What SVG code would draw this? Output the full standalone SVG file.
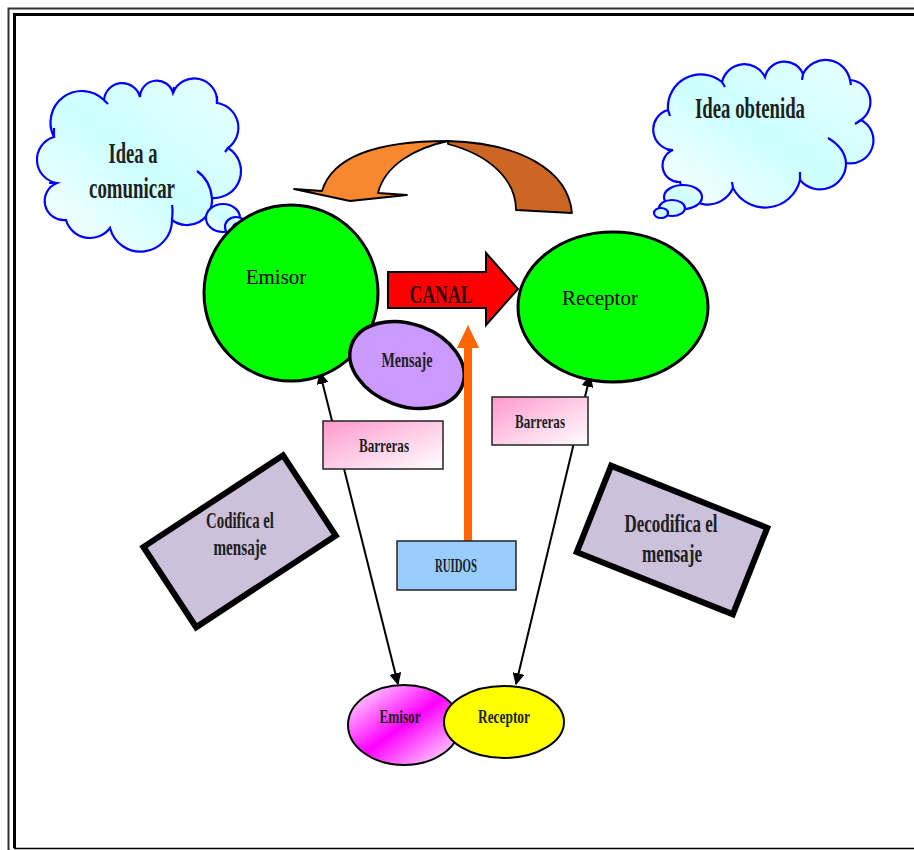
<svg xmlns="http://www.w3.org/2000/svg" width="914" height="850" viewBox="0 0 914 850">
<style>
.lbl{font-family:"Liberation Serif","DejaVu Serif",serif;font-weight:bold;fill:#1e1e1e;text-anchor:middle}
.reg{font-family:"Liberation Serif","DejaVu Serif",serif;font-size:21px;fill:#000;text-anchor:middle}
.cloud{stroke:#0000ff;stroke-width:2.2;fill:url(#cloudG)}
.hook{stroke:#0000ff;stroke-width:2.2;fill:none}
.conn{stroke:#000;stroke-width:2;fill:none}
.rot{fill:#ccc0da;stroke:#000;stroke-width:6}
</style>
<defs>
<linearGradient id="cloudG" x1="0" y1="1" x2="1" y2="0">
<stop offset="0" stop-color="#ffffff"/><stop offset="0.5" stop-color="#ccffff"/><stop offset="1" stop-color="#eaffff"/>
</linearGradient>
<linearGradient id="pinkG" x1="0" y1="0" x2="1" y2="1">
<stop offset="0" stop-color="#ff99cc"/><stop offset="1" stop-color="#ffffff"/>
</linearGradient>
<linearGradient id="magG" x1="0" y1="0" x2="1" y2="1">
<stop offset="0" stop-color="#ffffff"/><stop offset="0.5" stop-color="#ff00ff"/><stop offset="1" stop-color="#ffffff"/>
</linearGradient>
<marker id="ah" viewBox="0 0 10 10" refX="9" refY="5" markerWidth="6" markerHeight="6" orient="auto-start-reverse" markerUnits="strokeWidth">
<path d="M0,0 L10,5 L0,10 Z" fill="#000"/>
</marker>
</defs>
<rect x="0" y="0" width="914" height="850" fill="#fff"/>
<g id="frame" fill="none" stroke="#000">
<path d="M8.5,850 V8.5 H914" stroke-width="2" stroke="#333"/>
<path d="M14.5,848 V14.5 H914" stroke-width="3"/>
<path d="M14,848.5 H914" stroke-width="1.5"/>
</g>
<g id="cloud-left">
<path class="cloud" d="M54,137 A31.5,31.5 0 0 1 104,100 A18.3,18.3 0 0 1 140,97 A16.8,16.8 0 0 1 173,93 A22.8,22.8 0 0 1 217,103 A25,25 0 0 1 228,148 A27,27 0 0 1 212,198 A25,25 0 0 1 172,220 A31.5,31.5 0 0 1 110,228 A25,25 0 0 1 66,220 A19.2,19.2 0 0 1 57,183 A23.6,23.6 0 0 1 54,137 Z"/>
<path class="hook" d="M197,171 Q210,180 212,198 M172,220 Q173,210 172,205 M57,183 L49,183 M54,137 L54,128 M104,100 L108,104 M173,93 L174,87 M217,103 L217,96 M228,148 L225,152"/>
<ellipse class="cloud" cx="223" cy="218" rx="17" ry="14"/>
<ellipse class="cloud" cx="236" cy="227" rx="11" ry="10"/>
<ellipse class="cloud" cx="238" cy="228" rx="5" ry="5"/>
<text class="lbl" x="133" y="163" font-size="30" textLength="49" lengthAdjust="spacingAndGlyphs">Idea a</text>
<text class="lbl" x="132" y="198" font-size="30" textLength="86" lengthAdjust="spacingAndGlyphs">comunicar</text>
</g>
<g id="cloud-right">
<path class="cloud" d="M668,110 A33,33 0 0 1 722,82 A23,23 0 0 1 765,77 A20,20 0 0 1 803,74 A25,25 0 0 1 850,80 A22,22 0 0 1 861,120 A23,23 0 0 1 846,163 A26,26 0 0 1 800,180 A36,36 0 0 1 733,188 A28,28 0 0 1 680,182 A16.6,16.6 0 0 1 673,150 A20.4,20.4 0 0 1 668,110 Z"/>
<path class="hook" d="M828,138 Q845,148 846,163 M800,180 L800,172 M733,188 L732,182 M673,150 L667,150 M668,110 L670,116 M722,82 L725,87 M803,74 L802,80 M850,80 L851,85 M861,120 L855,124"/>
<ellipse class="cloud" cx="683" cy="197" rx="19" ry="12"/>
<ellipse class="cloud" cx="672" cy="208" rx="13" ry="8"/>
<ellipse class="cloud" cx="661" cy="213" rx="7" ry="5"/>
<text class="lbl" x="750" y="118" font-size="30" textLength="110" lengthAdjust="spacingAndGlyphs">Idea obtenida</text>
</g>
<g id="return-arrow" stroke="#000" stroke-width="1.8" stroke-linejoin="round">
<path d="M448,141 C520,143 568,170 572,213 L516,210 C516,180 490,155 448,144 Z" fill="#cc6622"/>
<path d="M294,189 L322,191 C332,158 375,141 448,141 C415,148 385,165 378,193 L407,195 L350,201 Z" fill="#f7882f"/>
</g>
<g id="connectors">
<line class="conn" x1="398" y1="684" x2="320" y2="373" marker-start="url(#ah)" marker-end="url(#ah)"/>
<line class="conn" x1="516" y1="684" x2="590" y2="376" marker-start="url(#ah)" marker-end="url(#ah)"/>
</g>
<g id="emisor">
<ellipse cx="291" cy="293" rx="87" ry="88" fill="#00ff00" stroke="#000" stroke-width="3"/>
<text class="reg" x="276" y="284">Emisor</text>
</g>
<g id="receptor">
<ellipse cx="613" cy="307" rx="95" ry="75" fill="#00ff00" stroke="#000" stroke-width="3"/>
<text class="reg" x="600" y="305">Receptor</text>
</g>
<g id="canal">
<polygon points="388,272 486,272 486,253 518,289 486,325 486,308 388,308" fill="#ff0000" stroke="#000" stroke-width="2"/>
<text class="lbl" x="441" y="303" font-size="25" textLength="63" lengthAdjust="spacingAndGlyphs" style="fill:#2a0000">CANAL</text>
</g>
<g id="mensaje">
<ellipse cx="407" cy="365" rx="59" ry="41" transform="rotate(20 407 365)" fill="#cc99ff" stroke="#000" stroke-width="3.5"/>
<text class="lbl" x="407" y="367" font-size="22" textLength="51" lengthAdjust="spacingAndGlyphs">Mensaje</text>
</g>
<g id="ruidos-arrow">
<rect x="464" y="346" width="8" height="196" fill="#ff6600"/>
<polygon points="457,348 479,348 468,325" fill="#ff6600"/>
</g>
<g id="ruidos">
<rect x="397" y="541" width="119" height="49" fill="#99ccff" stroke="#222" stroke-width="1.5"/>
<text class="lbl" x="456" y="572" font-size="19" textLength="42" lengthAdjust="spacingAndGlyphs">RUIDOS</text>
</g>
<g id="barreras-left">
<rect x="323" y="421" width="120" height="48" fill="url(#pinkG)" stroke="#222" stroke-width="1.5"/>
<text class="lbl" x="384" y="452" font-size="19" textLength="50" lengthAdjust="spacingAndGlyphs">Barreras</text>
</g>
<g id="barreras-right">
<rect x="492" y="397" width="96" height="48" fill="url(#pinkG)" stroke="#222" stroke-width="1.5"/>
<text class="lbl" x="540" y="428" font-size="19" textLength="50" lengthAdjust="spacingAndGlyphs">Barreras</text>
</g>
<g id="codifica">
<rect x="156" y="493" width="167" height="96" transform="rotate(-33.3 240 541)" class="rot"/>
<text class="lbl" x="240" y="528" font-size="24" textLength="68" lengthAdjust="spacingAndGlyphs">Codifica el</text>
<text class="lbl" x="240" y="555" font-size="24" textLength="53" lengthAdjust="spacingAndGlyphs">mensaje</text>
</g>
<g id="decodifica">
<rect x="588" y="493.5" width="168" height="93" transform="rotate(21.7 672 540)" class="rot"/>
<text class="lbl" x="671" y="532" font-size="25" textLength="93" lengthAdjust="spacingAndGlyphs">Decodifica el</text>
<text class="lbl" x="672" y="562" font-size="25" textLength="60" lengthAdjust="spacingAndGlyphs">mensaje</text>
</g>
<g id="emisor-small">
<ellipse cx="404" cy="725" rx="56" ry="40" fill="url(#magG)" stroke="#000" stroke-width="2"/>
<text class="lbl" x="400" y="723" font-size="19" textLength="41" lengthAdjust="spacingAndGlyphs">Emisor</text>
</g>
<g id="receptor-small">
<ellipse cx="504" cy="722" rx="60" ry="36" fill="#ffff00" stroke="#000" stroke-width="2"/>
<text class="lbl" x="504" y="723" font-size="19" textLength="52" lengthAdjust="spacingAndGlyphs">Receptor</text>
</g>
</svg>
